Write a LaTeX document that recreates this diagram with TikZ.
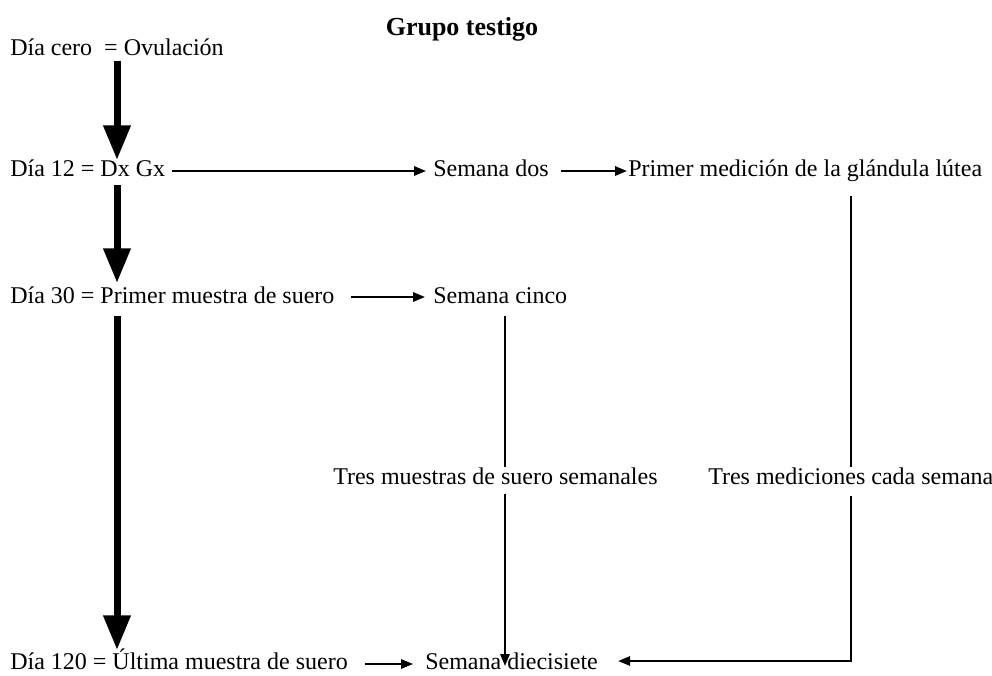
\documentclass[tikz,border=0pt]{standalone}
\usepackage{fontspec}
\setmainfont{Liberation Serif}
\usetikzlibrary{arrows.meta}
\begin{document}
\begin{tikzpicture}[x=0.75pt,y=-0.75pt,
  lbl/.style={anchor=base west, inner sep=0pt, font=\fontsize{18}{20}\selectfont},
  ttl/.style={anchor=base, inner sep=0pt, font=\fontsize{19.5}{22}\selectfont\bfseries},
  bigarrow/.style={line width=5.25pt, -{Triangle[width=19.5pt,length=26pt]}},
  thinline/.style={line width=1.5pt},
  thinarrow/.style={line width=1.5pt, -{Triangle[width=7pt,length=9pt]}}]
\useasboundingbox (0,0) rectangle (992,675);

\node[ttl] (title) at (462,35) {Grupo testigo};
\node[lbl] (d0) at (10,55) {Día cero \ = Ovulación};
\node[lbl] (d12) at (10,176) {Día 12 = Dx Gx};
\node[lbl] (s2) at (433,176) {Semana dos};
\node[lbl] (pm) at (628,176) {Primer medición de la glándula lútea};
\node[lbl] (d30) at (10,303) {Día 30 = Primer muestra de suero};
\node[lbl] (s5) at (433,303) {Semana cinco};
\node[lbl] (t1) at (333,484) {Tres muestras de suero semanales};
\node[lbl] (t2) at (708,484) {Tres mediciones cada semana};
\node[lbl] (d120) at (10,669) {Día 120 = Última muestra de suero};
\node[lbl] (s17) at (425,669) {Semana diecisiete};

\coordinate (cx) at (117,0);
\coordinate (v1) at (505,0);
\coordinate (v2) at (851,0);

% thick vertical arrows
\draw[bigarrow] ([shift={(0,5)}]d0.south -| cx) -- ([shift={(0,-16)}]d12.base -| cx);
\draw[bigarrow] ([shift={(0,9)}]d12.base -| cx) -- ([shift={(0,-20)}]d30.base -| cx);
\draw[bigarrow] ([shift={(0,13)}]d30.base -| cx) -- ([shift={(0,-19)}]d120.base -| cx);

% horizontal arrows
\draw[thinarrow] ([shift={(7,-5)}]d12.base east) -- ([shift={(-7,-5)}]s2.base west);
\draw[thinarrow] ([shift={(12,-5)}]s2.base east) -- ([shift={(-1,-5)}]pm.base west);
\draw[thinarrow] ([shift={(16,-6)}]d30.base east) -- ([shift={(-8,-6)}]s5.base west);
\draw[thinarrow] ([shift={(17,-5)}]d120.base east) -- ([shift={(-12,-5)}]s17.base west);

% vertical line from Semana cinco
\draw[thinline] ([shift={(0,13)}]s5.base -| v1) -- (t1.north -| v1);
\draw[thinarrow] ([shift={(0,9)}]t1.south -| v1) -- ([shift={(0,-3)}]s17.base -| v1);

% right line from Primer medicion
\draw[thinline] ([shift={(0,20)}]pm.base -| v2) -- (t2.north -| v2);
\draw[thinarrow] ([shift={(0,11)}]t2.south -| v2) -- ([shift={(0,-8)}]s17.base -| v2) -- ([shift={(20,-8)}]s17.base east);
\end{tikzpicture}
\end{document}
